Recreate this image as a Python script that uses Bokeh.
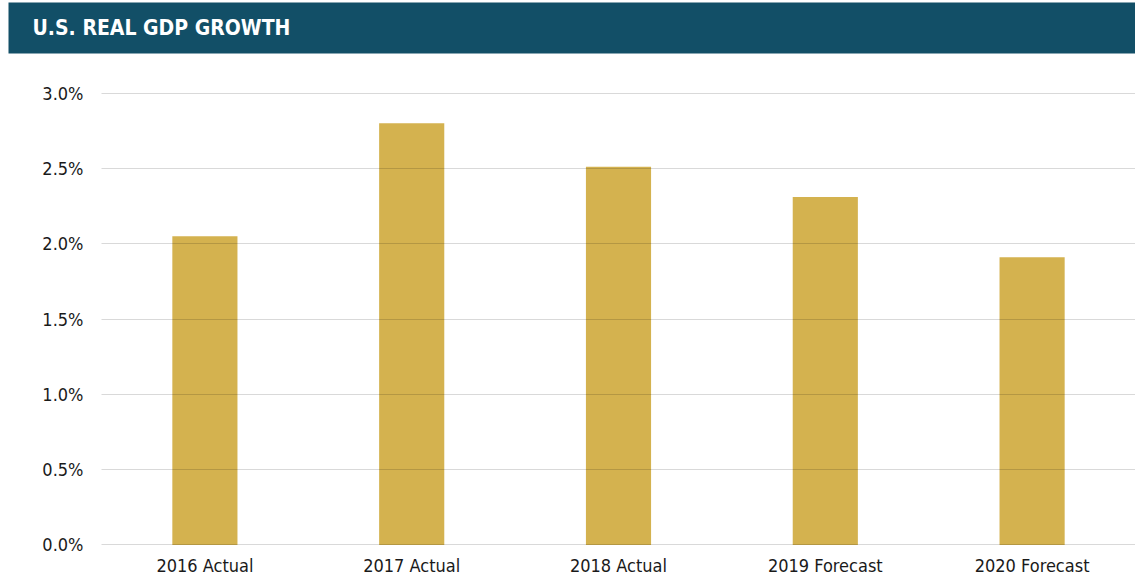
from bokeh.plotting import figure
from bokeh.models import Range1d, FactorRange, Title, PrintfTickFormatter, FixedTicker
from bokeh.embed import file_html
from bokeh.resources import INLINE

title_text = "U.S. REAL GDP GROWTH"
categories = ["2016 Actual", "2017 Actual", "2018 Actual", "2019 Forecast", "2020 Forecast"]
values = [2.05, 2.80, 2.51, 2.31, 1.91]
y_ticks = [0.0, 0.5, 1.0, 1.5, 2.0, 2.5, 3.0]

FONT = "'DejaVu Sans Condensed', sans-serif"
HEADER = "#124F67"
GOLD = "#D4B24F"
W = 1135
LEFT = 101

title = Title(text=title_text, align="left", offset=8 - LEFT, standoff=0,
              text_color="white", text_font=FONT, text_font_style="bold",
              text_font_size="21px", background_fill_color=HEADER,
              border_line_color=None,
              padding=dict(left=24, right=1300, top=13, bottom=14))

p = figure(width=W, height=578, x_range=FactorRange(*categories, range_padding=0),
           y_range=Range1d(-0.01, 3.01), output_backend="svg", toolbar_location=None,
           title=title,
           min_border_left=LEFT, min_border_right=0, min_border_top=91, min_border_bottom=31)
p.outline_line_color = None
# blank spacer between header band and plot area
p.add_layout(Title(text=" ", text_font_size="1px", standoff=35), "above")

p.vbar(x=categories, top=values, width=0.315, fill_color=GOLD, line_color=None)

p.xgrid.visible = False
p.ygrid.grid_line_color = "black"
p.ygrid.grid_line_alpha = 0.15
p.ygrid.level = "overlay"
p.yaxis.ticker = FixedTicker(ticks=y_ticks)
p.yaxis.formatter = PrintfTickFormatter(format="%.1f%%")

for ax in (p.xaxis, p.yaxis):
    ax.axis_line_color = None
    ax.major_tick_line_color = None
    ax.minor_tick_line_color = None
    ax.major_tick_out = 0
    ax.major_tick_in = 0
    ax.minor_tick_out = 0
    ax.major_label_text_font = FONT
    ax.major_label_text_font_size = "18px"
    ax.major_label_text_color = "#1a1a1a"
p.yaxis.major_label_standoff = 18
p.xaxis.major_label_standoff = 8

open("out.html", "w").write(file_html(p, INLINE))
